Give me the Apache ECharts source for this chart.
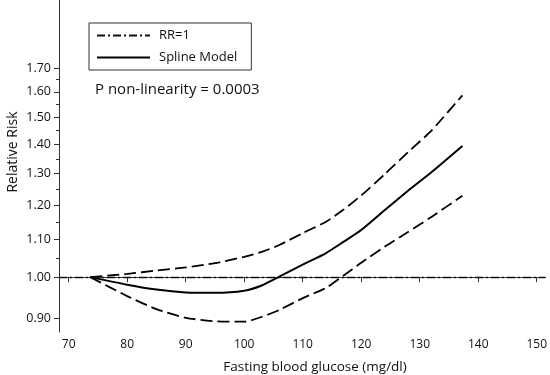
<!DOCTYPE html>
<html>
<head>
<meta charset="utf-8">
<script src="https://cdn.jsdelivr.net/npm/echarts@6/dist/echarts.min.js"></script>
<style>
  html, body { margin: 0; padding: 0; background: #fff; }
  #chart { width: 550px; height: 375px; }
</style>
</head>
<body>
<div id="chart"></div>
<script>
// fasting blood glucose (mg/dl) and relative risk
var glucose = [73.7, 80, 85, 90, 95, 100, 103, 106, 110, 114, 117, 120, 124, 128, 132, 137.3];
var rrSpline = [1.000, 0.981, 0.969, 0.962, 0.961, 0.966, 0.979, 1.001, 1.032, 1.063, 1.094, 1.127, 1.185, 1.245, 1.305, 1.395];
var rrLower = [1.000, 0.953, 0.922, 0.902, 0.894, 0.893, 0.904, 0.920, 0.948, 0.973, 1.004, 1.037, 1.080, 1.121, 1.165, 1.229];
var rrUpper = [1.000, 1.008, 1.017, 1.025, 1.036, 1.053, 1.066, 1.085, 1.118, 1.151, 1.187, 1.230, 1.298, 1.373, 1.450, 1.586];
var rrRef = 1;

var xTicks = [70, 80, 90, 100, 110, 120, 130, 140, 150];
var yTicks = [0.9, 1.0, 1.1, 1.2, 1.3, 1.4, 1.5, 1.6, 1.7];
var yMinorTicks = [1.05, 1.15, 1.25, 1.35, 1.45, 1.55, 1.65];

var FONT = "'Open Sans', 'DejaVu Sans', sans-serif";

// y is drawn on a log scale: the axis works in ln(RR)
function pairs(ys) {
  return glucose.map(function (g, i) { return [g, Math.log(ys[i])]; });
}

var dashCI = [12, 5];
var dashRef = [8, 3, 2, 3];

var myChart = echarts.init(document.getElementById("chart"));
var option = {
  animation: false,
  grid: { left: 59, right: 2, top: 0, bottom: 43 },
  legend: {
    data: ["RR=1", "Spline Model"],
    orient: "vertical",
    left: 89,
    top: 23,
    padding: [6, 14, 6, 7],
    itemWidth: 53,
    itemHeight: 14,
    itemGap: 9,
    borderColor: "#333",
    borderWidth: 1,
    // hide the marker symbol, keep only the line
    itemStyle: { opacity: 0, color: "transparent", borderWidth: 0 },
    textStyle: { fontFamily: FONT, fontSize: 13, color: "#111", padding: [0, 0, 0, 4] }
  },
  xAxis: {
    type: "value",
    min: 68.35,
    max: 151.5,
    splitLine: { show: false },
    axisLine: { lineStyle: { color: "#333", width: 1 } },
    axisTick: { customValues: xTicks, length: 5, lineStyle: { color: "#333" } },
    axisLabel: { customValues: xTicks, margin: 7, fontFamily: FONT, fontSize: 12, color: "#111" }
  },
  yAxis: [
    {
      type: "value",
      min: Math.log(0.87),
      max: Math.log(2.02),
      splitLine: { show: false },
      axisLine: { show: true, lineStyle: { color: "#333", width: 1 } },
      axisTick: { show: true, customValues: yTicks.map(Math.log), length: 5, lineStyle: { color: "#333" } },
      axisLabel: {
        customValues: yTicks.map(Math.log),
        margin: 8,
        fontFamily: FONT,
        fontSize: 12.5,
        color: "#111",
        formatter: function (v) { return Math.exp(v).toFixed(2); }
      }
    },
    {
      // minor ticks only
      type: "value",
      position: "left",
      min: Math.log(0.87),
      max: Math.log(2.02),
      splitLine: { show: false },
      axisLine: { show: false },
      axisTick: { show: true, customValues: yMinorTicks.map(Math.log), length: 3, lineStyle: { color: "#333" } },
      axisLabel: { show: false }
    }
  ],
  graphic: [
    {
      type: "text",
      x: 13,
      y: 152,
      rotation: Math.PI / 2,
      style: { text: "Relative Risk", fontFamily: FONT, fontSize: 14, fill: "#111", align: "center", verticalAlign: "middle" }
    },
    {
      type: "text",
      x: 315,
      y: 367,
      style: { text: "Fasting blood glucose (mg/dl)", fontFamily: FONT, fontSize: 13.5, fill: "#111", align: "center", verticalAlign: "middle" }
    },
    {
      type: "text",
      x: 95,
      y: 90,
      style: { text: "P non-linearity = 0.0003", fontFamily: FONT, fontSize: 15, fill: "#111", align: "left", verticalAlign: "middle" }
    }
  ],
  series: [
    {
      name: "RR=1",
      type: "line",
      data: [],
      symbol: "none",
      lineStyle: { color: "#111", width: 1.3, type: dashRef },
      itemStyle: { color: "#111" },
      markLine: {
        silent: true,
        symbol: "none",
        label: { show: false },
        lineStyle: { color: "#111", width: 1.3, type: dashRef },
        data: [{ yAxis: Math.log(rrRef) }]
      }
    },
    {
      name: "Spline Model",
      type: "line",
      data: pairs(rrSpline),
      symbol: "none",
      smooth: 0.2,
      lineStyle: { color: "#000", width: 2 },
      itemStyle: { color: "#000" }
    },
    {
      name: "Lower CI",
      type: "line",
      data: pairs(rrLower),
      symbol: "none",
      smooth: 0.2,
      lineStyle: { color: "#000", width: 1.8, type: dashCI }
    },
    {
      name: "Upper CI",
      type: "line",
      data: pairs(rrUpper),
      symbol: "none",
      smooth: 0.2,
      lineStyle: { color: "#000", width: 1.8, type: dashCI }
    }
  ]
};
myChart.setOption(option);
</script>
</body>
</html>
